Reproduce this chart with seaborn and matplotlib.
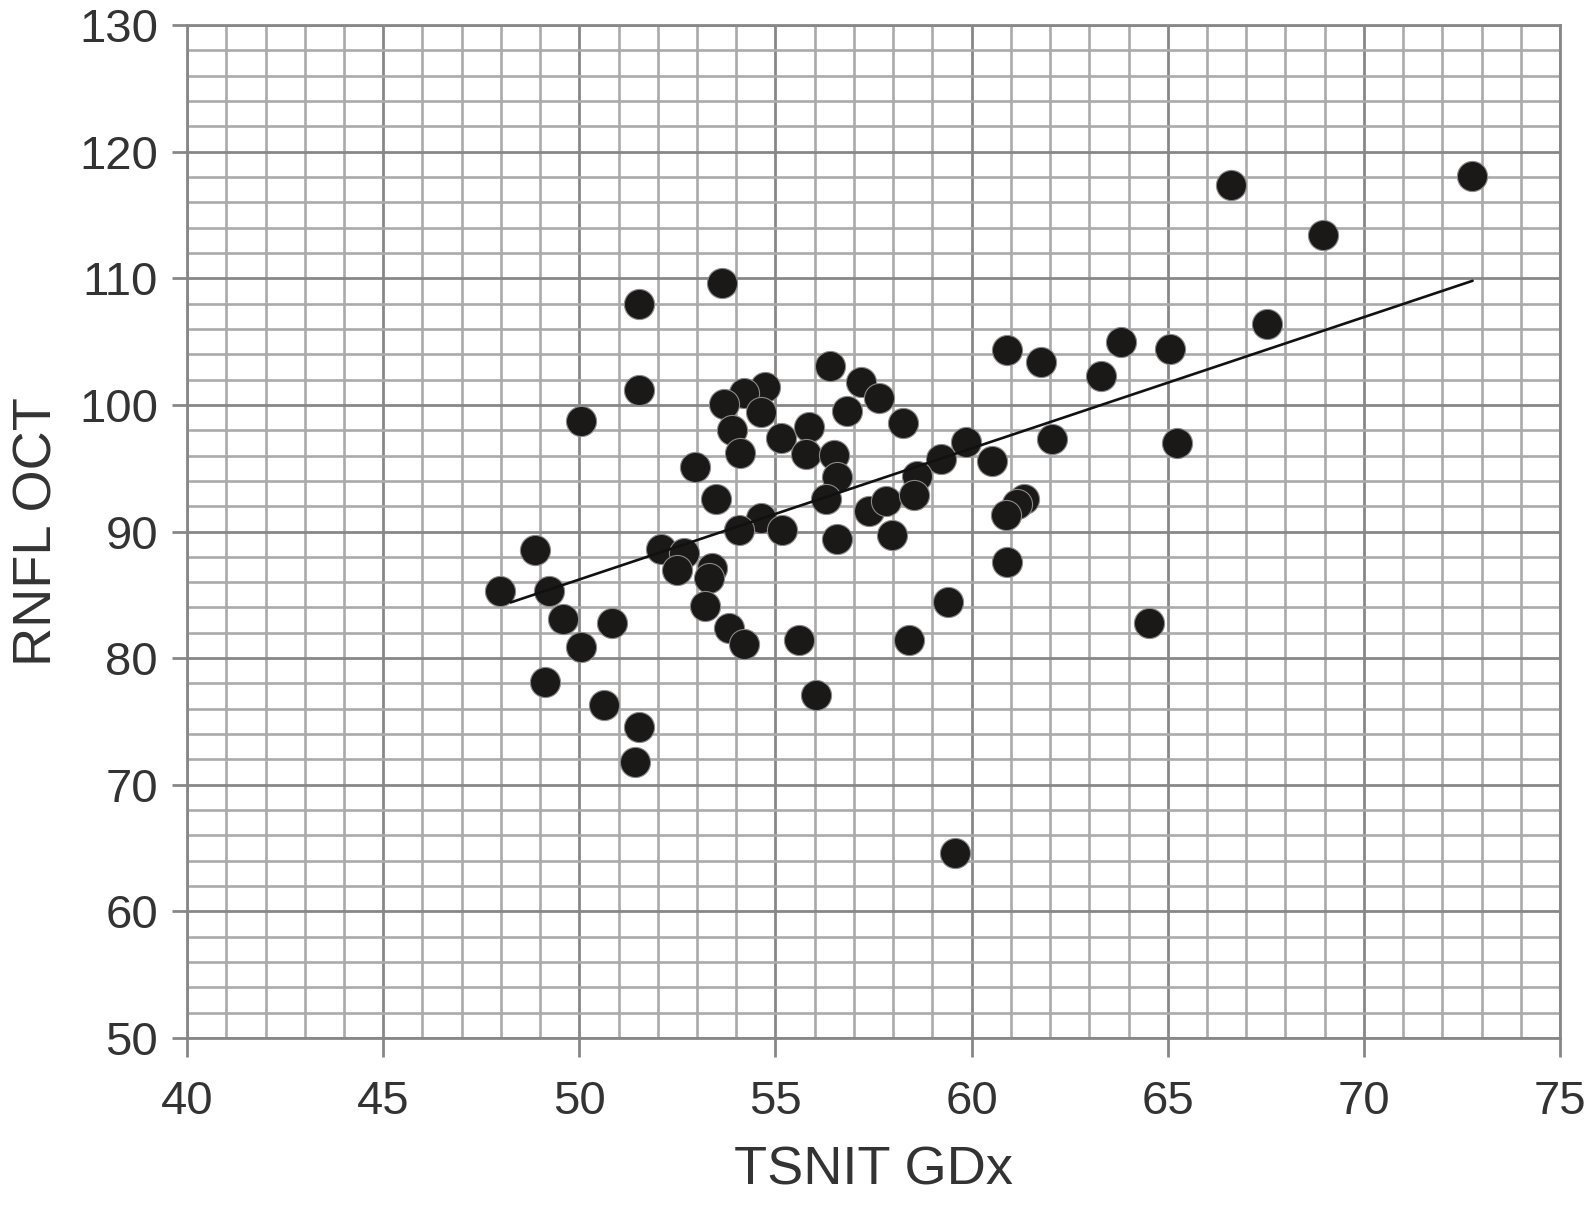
import numpy as np
import pandas as pd
import seaborn as sns
import matplotlib.pyplot as plt
from matplotlib.ticker import MultipleLocator

# TSNIT GDx vs RNFL OCT
tsnit_gdx = [47.98, 48.88, 49.22, 49.59, 50.83, 50.03, 49.13, 50.62, 51.51, 51.43,
             50.03, 51.51, 51.51, 53.64, 52.08, 52.66, 52.49, 53.38, 53.30, 53.21,
             53.81, 54.19, 55.59, 56.02, 52.96, 53.49, 54.62, 54.06, 55.17, 56.57,
             56.38, 54.72, 54.21, 53.70, 54.62, 57.17, 56.83, 57.64, 53.89, 54.09,
             55.13, 55.85, 55.77, 56.49, 56.56, 56.28, 57.38, 57.81, 57.98, 58.26,
             59.85, 59.21, 60.53, 62.06, 58.60, 58.53, 61.33, 61.16, 60.87, 60.91,
             60.89, 61.76, 63.29, 63.80, 65.06, 65.23, 66.62, 67.53, 68.95, 72.75,
             64.53, 59.39, 59.57, 58.40]
rnfl_oct = [85.3, 88.55, 85.3, 83.1, 82.8, 80.9, 78.15, 76.3, 74.6, 71.8,
            98.7, 108.0, 101.2, 109.6, 88.6, 88.3, 87.0, 87.1, 86.3, 84.1,
            82.4, 81.1, 81.4, 77.1, 95.1, 92.6, 91.05, 90.1, 90.1, 89.4,
            103.1, 101.45, 100.9, 100.1, 99.4, 101.8, 99.5, 100.55, 98.0, 96.2,
            97.35, 98.25, 96.1, 96.05, 94.3, 92.55, 91.6, 92.4, 89.7, 98.6,
            97.1, 95.7, 95.6, 97.3, 94.4, 92.9, 92.6, 92.2, 91.3, 87.6,
            104.35, 103.35, 102.25, 105.0, 104.4, 97.0, 117.4, 106.4, 113.4, 118.1,
            82.8, 84.4, 64.6, 81.4]

# trend line end points as drawn in the reference
fit_x = [48.25, 72.77]
fit_y = [84.4, 109.8]

df = pd.DataFrame({'TSNIT GDx': tsnit_gdx, 'RNFL OCT': rnfl_oct})
fit_df = pd.DataFrame({'x': fit_x, 'y': fit_y})

sns.set_style("white")
plt.rcParams['font.family'] = ['Liberation Sans', 'DejaVu Sans']

fig, ax = plt.subplots(figsize=(15.88, 12.08), dpi=100)
fig.subplots_adjust(left=0.1178, right=0.9824, top=0.9793, bottom=0.1407)

# graph-paper grid
ax.xaxis.set_major_locator(MultipleLocator(5))
ax.xaxis.set_minor_locator(MultipleLocator(1))
ax.yaxis.set_major_locator(MultipleLocator(10))
ax.yaxis.set_minor_locator(MultipleLocator(2))
ax.grid(which='minor', color='#aaaaaa', linewidth=1.9)
ax.grid(which='major', color='#878787', linewidth=2.0)
ax.set_axisbelow(True)

sns.scatterplot(data=df, x='TSNIT GDx', y='RNFL OCT', ax=ax, s=470,
                color='#1b1818', edgecolor='#8a8a8a', linewidth=0.8, zorder=3)
sns.lineplot(data=fit_df, x='x', y='y', ax=ax, color='#111111',
             linewidth=1.9, zorder=4)

ax.set_xlim(40, 75)
ax.set_ylim(50, 130)

for sp in ax.spines.values():
    sp.set_color('#878787')
    sp.set_linewidth(2.0)

ax.tick_params(axis='y', left=True)
ax.tick_params(axis='x', bottom=True)
ax.tick_params(which='major', axis='y', direction='out', length=11, width=2.0,
               color='#878787', labelsize=34, labelcolor='#333333', pad=10)
ax.tick_params(which='major', axis='x', direction='out', length=14, width=2.0,
               color='#878787', labelsize=34, labelcolor='#333333', pad=16)
ax.tick_params(which='minor', length=0)

ax.set_xlabel('TSNIT GDx', fontsize=39, color='#333333', labelpad=16)
ax.set_ylabel('RNFL OCT', fontsize=39, color='#333333', labelpad=12)

plt.savefig('out.png', dpi=100)
